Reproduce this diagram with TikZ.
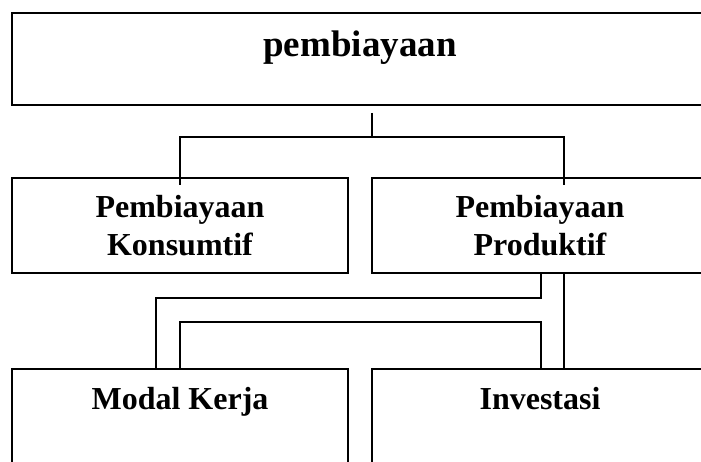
\documentclass[tikz,border=0pt]{standalone}
\usepackage{fontspec}
\setmainfont{Liberation Serif}

\begin{document}
\begin{tikzpicture}[x=1pt, y=-1pt, line width=1.5pt,
  box/.style={draw, rectangle, line width=1.8pt, inner sep=0pt},
  lbl/.style={font=\bfseries\fontsize{32}{38}\selectfont, align=center, inner sep=0pt, anchor=base}]
  \clip (0,0) rectangle (701,462);

  % boxes
  \node[box, minimum width=696pt, minimum height=92pt] (top) at (360,59) {};
  \node[box, minimum width=336pt, minimum height=95pt] (konsumtif) at (180,225.5) {};
  \node[box, minimum width=336pt, minimum height=95pt] (produktif) at (540,225.5) {};
  \node[box, minimum width=336pt, minimum height=122pt] (modal) at (180,430) {};
  \node[box, minimum width=336pt, minimum height=122pt] (investasi) at (540,430) {};

  % texts
  \node[lbl, font=\bfseries\fontsize{37}{42}\selectfont] (toptext) at (360,57) {pembiayaan};
  \node[lbl] (konsumtiftext) at (180,255) {Pembiayaan\\Konsumtif};
  \node[lbl] (produktiftext) at (540,255) {Pembiayaan\\Produktif};
  \node[lbl] (modaltext) at (180,409) {Modal Kerja};
  \node[lbl] (investasitext) at (540,409) {Investasi};

  % junctions
  \coordinate (s1) at (372,113);
  \coordinate (s2) at (372,137);
  \coordinate (l1) at (180,137);
  \coordinate (l2) at (180,185);
  \coordinate (r1) at (564,137);
  \coordinate (r2) at (564,185);

  \coordinate (a1) at (541,273);
  \coordinate (a2) at (541,298);
  \coordinate (a3) at (156,298);
  \coordinate (a4) at (156,369);
  \coordinate (b1) at (564,273);
  \coordinate (b2) at (564,369);
  \coordinate (c1) at (541,369);
  \coordinate (c2) at (541,322);
  \coordinate (c3) at (180,322);
  \coordinate (c4) at (180,369);

  \draw (s1) -- (s2);
  \draw (l2) -- (l1) -- (r1) -- (r2);

  \draw (a1) -- (a2) -- (a3) -- (a4);
  \draw (b1) -- (b2);
  \draw (c1) -- (c2) -- (c3) -- (c4);

\end{tikzpicture}
\end{document}
